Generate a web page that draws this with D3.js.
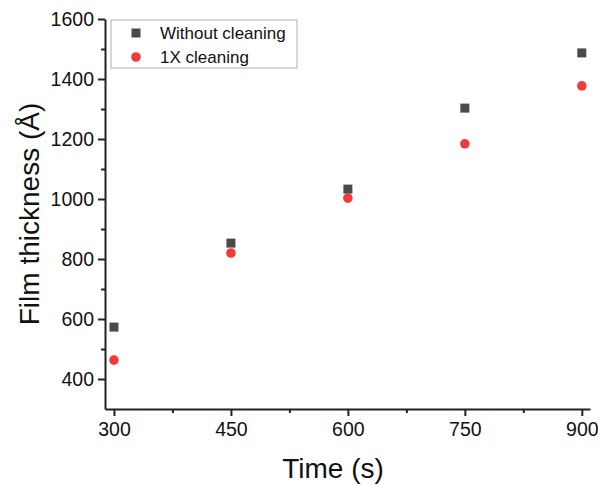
<!DOCTYPE html>
<html>
<head>
<meta charset="utf-8">
<script src="https://cdn.jsdelivr.net/npm/d3@7"></script>
<style>
  body { margin: 0; background: #fff; }
  text { font-family: "Liberation Sans", Arial, sans-serif; fill: #111; }
</style>
</head>
<body>
<div id="graph"></div>
<script>
// data
var times = [300, 450, 600, 750, 900];
var withoutCleaning = [573, 853, 1033, 1303, 1487];
var oneXCleaning = [463, 820, 1003, 1184, 1377];
var seriesNames = ["Without cleaning", "1X cleaning"];
var xTicks = [300, 450, 600, 750, 900];
var yTicks = [400, 600, 800, 1000, 1200, 1400, 1600];

// measurements
var width = 598;
var height = 486;
var margin = { top: 19, right: 8, bottom: 77, left: 105 };
var chartWidth = width - margin.left - margin.right;
var chartHeight = height - margin.top - margin.bottom;

var chart = d3.select("#graph").append("svg")
    .attr("width", width)
    .attr("height", height);

var xScale = d3.scaleLinear().domain([288.5, 910.5]).range([0, chartWidth]);
var yScale = d3.scaleLinear().domain([300, 1600]).range([chartHeight, 0]);

var plot = chart.append("g")
    .attr("transform", "translate(" + margin.left + "," + margin.top + ")");

// minor ticks
var xMinor = d3.axisBottom(xScale).tickValues([375, 525, 675, 825]).tickSize(4).tickFormat("");
plot.append("g")
    .attr("transform", "translate(0," + chartHeight + ")")
    .call(xMinor)
    .call(function (g) { g.select(".domain").remove(); });
var yMinor = d3.axisLeft(yScale).tickValues([500, 700, 900, 1100, 1300, 1500]).tickSize(4).tickFormat("");
plot.append("g")
    .call(yMinor)
    .call(function (g) { g.select(".domain").remove(); });

// major axes
var xAxis = d3.axisBottom(xScale).tickValues(xTicks).tickSize(7).tickSizeOuter(0).tickPadding(6)
    .tickFormat(d3.format("d"));
var xG = plot.append("g")
    .attr("transform", "translate(0," + chartHeight + ")")
    .call(xAxis);
var yAxis = d3.axisLeft(yScale).tickValues(yTicks).tickSize(7).tickSizeOuter(0).tickPadding(4)
    .tickFormat(d3.format("d"));
var yG = plot.append("g").call(yAxis);

plot.selectAll(".tick line, .domain")
    .attr("stroke", "#222")
    .attr("stroke-width", 2);
[xG, yG].forEach(function (g) {
    g.selectAll(".tick text")
        .style("font-size", "19.5px")
        .style("font-family", "'Liberation Sans', Arial, sans-serif")
        .attr("fill", "#111");
});

// axis titles
chart.append("text")
    .attr("text-anchor", "middle")
    .style("font-size", "28px")
    .attr("x", 333)
    .attr("y", 478)
    .text("Time (s)");

chart.append("text")
    .attr("text-anchor", "middle")
    .style("font-size", "28px")
    .attr("transform", "translate(39," + (margin.top + chartHeight / 2) + ") rotate(-90)")
    .text("Film thickness (Å)");

// dots
var squareSize = 9;
plot.selectAll(".sq")
    .data(times)
    .enter().append("rect")
      .attr("class", "sq")
      .attr("x", function (d) { return xScale(d) - squareSize / 2; })
      .attr("y", function (d, i) { return yScale(withoutCleaning[i]) - squareSize / 2; })
      .attr("width", squareSize)
      .attr("height", squareSize)
      .style("fill", "#4a4a4a");

plot.selectAll(".dot")
    .data(times)
    .enter().append("circle")
      .attr("class", "dot")
      .attr("r", 4.8)
      .attr("cx", function (d) { return xScale(d); })
      .attr("cy", function (d, i) { return yScale(oneXCleaning[i]); })
      .style("fill", "#f23a3a");

// legend
var legend = chart.append("g").attr("transform", "translate(111,20)");
legend.append("rect")
    .attr("width", 186)
    .attr("height", 48)
    .attr("fill", "#fff")
    .attr("stroke", "#b0b0b0")
    .attr("stroke-width", 1);
legend.append("rect")
    .attr("x", 25 - squareSize / 2)
    .attr("y", 13 - squareSize / 2)
    .attr("width", squareSize)
    .attr("height", squareSize)
    .style("fill", "#4a4a4a");
legend.append("circle")
    .attr("cx", 25)
    .attr("cy", 37)
    .attr("r", 4.8)
    .style("fill", "#f23a3a");
legend.selectAll(".lt")
    .data(seriesNames)
    .enter().append("text")
      .attr("class", "lt")
      .attr("x", 49)
      .attr("y", function (d, i) { return 19 + i * 24; })
      .style("font-size", "17px")
      .text(function (d) { return d; });
</script>
</body>
</html>
